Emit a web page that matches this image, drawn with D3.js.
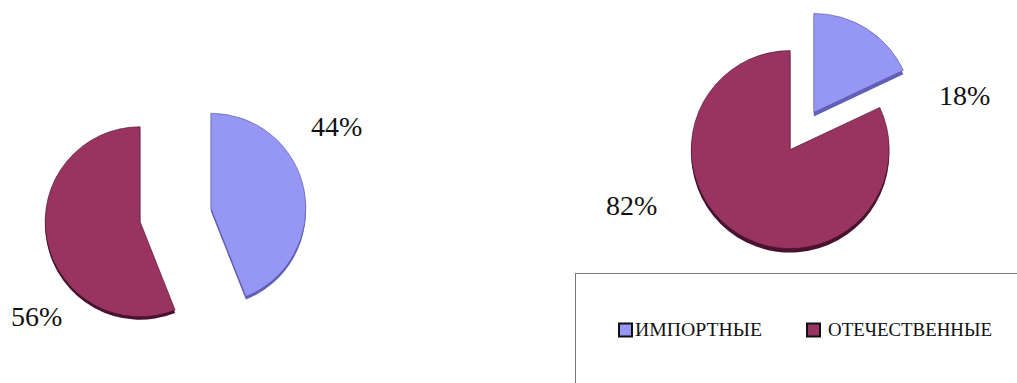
<!DOCTYPE html>
<html>
<head>
<meta charset="utf-8">
<script src="https://cdn.jsdelivr.net/npm/d3@7/dist/d3.min.js"></script>
</head>
<body style="margin:0; background:#fff">
<svg id="chart" width="1017" height="383" style="display:block"></svg>
<script>
// Share of imported vs domestic products, two survey groups
const categories = ["ИМПОРТНЫЕ", "ОТЕЧЕСТВЕННЫЕ"];
const groupA = [44, 56];
const groupB = [18, 82];
const labelsA = ["44%", "56%"];
const labelsB = ["18%", "82%"];

const topColors  = ["#9696f4", "#993462"];
const sideColors = ["#6060b8", "#4a1230"];

const svg = d3.select("#chart");

const pie = d3.pie().sort(null).value(d => d).startAngle(0).endAngle(2 * Math.PI);

function drawPie(values, labels, cfg) {
  const arcs = pie(values);
  const arc = d3.arc().innerRadius(0).outerRadius(cfg.r);
  const g = svg.append("g").attr("transform", `translate(${cfg.cx},${cfg.cy})`);

  arcs.forEach((a, i) => {
    const mid = (a.startAngle + a.endAngle) / 2;
    const dx = Math.sin(mid) * cfg.explode;
    const dy = -Math.cos(mid) * cfg.explode;
    const s = g.append("g").attr("transform", `translate(${dx},${dy})`);
    // thickness of the slice
    s.append("path")
      .attr("d", arc(a))
      .attr("transform", `translate(0,${cfg.depth})`)
      .attr("fill", sideColors[i]);
    // top face
    s.append("path")
      .attr("d", arc(a))
      .attr("fill", topColors[i])
      .attr("stroke", d3.color(sideColors[i]).darker(0.4))
      .attr("stroke-width", 0.6);
  });

  labels.forEach((t, i) => {
    svg.append("text")
      .attr("x", cfg.labels[i][0])
      .attr("y", cfg.labels[i][1])
      .attr("style", "font-family: 'Tinos'; font-size: 28px")
      .attr("fill", "#111")
      .text(t);
  });
}

drawPie(groupA, labelsA, {
  cx: 175.5, cy: 215, r: 95, explode: 36, depth: 3,
  labels: [[311, 136], [11, 326]]
});

drawPie(groupB, labelsB, {
  cx: 802, cy: 131, r: 99, explode: 22, depth: 4,
  labels: [[939, 105], [606, 215]]
});

// Legend
const legend = svg.append("g");
legend.append("rect")
  .attr("x", 575.5).attr("y", 273.5)
  .attr("width", 460).attr("height", 130)
  .attr("fill", "#fff")
  .attr("stroke", "#777").attr("stroke-width", 1);

const legendItems = [
  { x: 618, textX: 635, w: 127 },
  { x: 806, textX: 828, w: 164 }
];
categories.forEach((c, i) => {
  const it = legendItems[i];
  legend.append("rect")
    .attr("x", it.x + 1).attr("y", 323.5)
    .attr("width", 13).attr("height", 13)
    .attr("fill", topColors[i])
    .attr("stroke", "#111").attr("stroke-width", 2);
  legend.append("text")
    .attr("x", it.textX).attr("y", 336)
    .attr("style", "font-family: 'Tinos'; font-size: 18px")
    .attr("fill", "#111")
    .attr("textLength", it.w)
    .attr("lengthAdjust", "spacingAndGlyphs")
    .text(c);
});
</script>
</body>
</html>
